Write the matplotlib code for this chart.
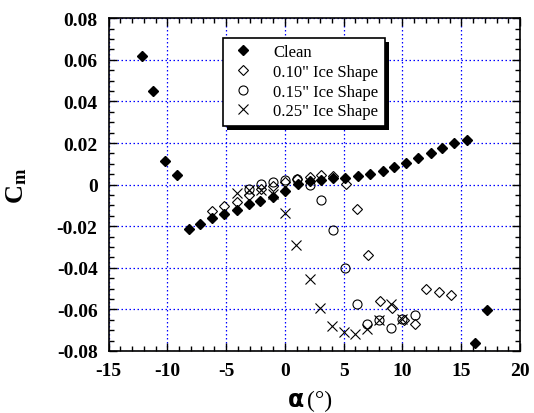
import matplotlib
matplotlib.use('Agg')
import matplotlib.pyplot as plt
from matplotlib.ticker import MultipleLocator
from matplotlib.patches import Rectangle

plt.rcParams['font.family'] = 'Liberation Serif'
plt.rcParams['mathtext.fontset'] = 'custom'
plt.rcParams['mathtext.rm'] = 'Liberation Serif'
plt.rcParams['mathtext.bf'] = 'Liberation Serif:bold'

# pitching moment vs angle of attack
clean_a = [-12.2, -11.2, -10.2, -9.2, -8.2, -7.2, -6.2, -5.2, -4.1, -3.1, -2.1, -1.0,
           0.0, 1.1, 2.1, 3.1, 4.1, 5.1, 6.2, 7.2, 8.3, 9.3, 10.3, 11.3, 12.4, 13.4,
           14.4, 15.5, 16.2, 17.2]
clean_cm = [0.0617, 0.0450, 0.0114, 0.0046, -0.0213, -0.0191, -0.0160, -0.0143, -0.0124,
            -0.0093, -0.0079, -0.0058, -0.0031, 0.0003, 0.0016, 0.0021, 0.0030, 0.0033,
            0.0043, 0.0051, 0.0066, 0.0083, 0.0103, 0.0127, 0.0151, 0.0175, 0.0202,
            0.0213, -0.0762, -0.0605]

ice10_a = [-6.2, -5.2, -4.1, -3.1, -2.0, -1.0, 0.0, 1.0, 2.1, 3.1, 4.1, 5.2, 6.1, 7.1,
           8.1, 9.1, 10.1, 11.1, 12.0, 13.1, 14.1]
ice10_cm = [-0.0127, -0.0101, -0.0085, -0.0050, -0.0023, -0.0008, 0.0011, 0.0025, 0.0038,
            0.0046, 0.0043, 0.0004, -0.0119, -0.0339, -0.0558, -0.0592, -0.0650, -0.0669,
            -0.0502, -0.0515, -0.0531]

ice15_a = [-3.1, -2.0, -1.0, 0.0, 1.0, 2.1, 3.1, 4.1, 5.1, 6.1, 7.0, 8.0, 9.0, 10.0, 11.1]
ice15_cm = [-0.0023, 0.0004, 0.0011, 0.0024, 0.0025, -0.0001, -0.0074, -0.0218, -0.0401,
            -0.0576, -0.0672, -0.0650, -0.0690, -0.0646, -0.0626]

ice25_a = [-4.1, -3.1, -2.0, -1.0, 0.0, 0.9, 2.1, 3.0, 4.0, 5.0, 6.0, 7.0, 8.0, 9.0, 10.0]
ice25_cm = [-0.0039, -0.0024, -0.0026, -0.0047, -0.0137, -0.0290, -0.0456, -0.0592,
            -0.0679, -0.0710, -0.0719, -0.0695, -0.0650, -0.0574, -0.0646]

x_ticks = [-15, -10, -5, 0, 5, 10, 15, 20]
x_labels = ['-15', '-10', '-5', '0', '5', '10', '15', '20']
y_ticks = [-0.08, -0.06, -0.04, -0.02, 0, 0.02, 0.04, 0.06, 0.08]
y_labels = ['-0.08', '-0.06', '-0.04', '-0.02', '0', '0.02', '0.04', '0.06', '0.08']

fig = plt.figure(figsize=(5.34, 4.14), dpi=100)
ax = fig.add_axes([0.2036, 0.1498, 0.7702, 0.8036])

ax.plot(clean_a, clean_cm, 'D', ms=5.4, color='black', mec='black', label='Clean', zorder=5)
ax.plot(ice10_a, ice10_cm, 'D', ms=5.2, mfc='white', mec='black', mew=0.8,
        label='0.10" Ice Shape', zorder=4)
ax.plot(ice15_a, ice15_cm, 'o', ms=6.5, mfc='none', mec='black', mew=0.8,
        label='0.15" Ice Shape', zorder=4)
ax.plot(ice25_a, ice25_cm, 'x', ms=7, color='black', mew=0.8,
        label='0.25" Ice Shape', zorder=4)

ax.set_xlim(-15, 20)
ax.set_ylim(-0.08, 0.08)
ax.set_xticks(x_ticks)
ax.set_xticklabels(x_labels, fontweight='bold', fontsize=14)
ax.set_yticks(y_ticks)
ax.set_yticklabels(y_labels, fontweight='bold', fontsize=14)
ax.xaxis.set_minor_locator(MultipleLocator(1))
ax.yaxis.set_minor_locator(MultipleLocator(0.005))
ax.grid(True, which='major', color='#0000ff', linestyle=(0, (1.2, 2)), linewidth=0.9)
ax.set_axisbelow(True)

ax.tick_params(which='both', direction='in', top=True, right=True, width=1)
ax.tick_params(which='major', length=6, pad=8)
ax.tick_params(which='minor', length=3.5)
for s in ax.spines.values():
    s.set_linewidth(1.2)

# axis titles
ax.set_ylabel(r'$\mathbf{C_m}$', fontsize=19, labelpad=20)
fig.text(0.569, 0.004, 'α', fontsize=17, fontweight='bold', family='DejaVu Sans',
         ha='right', va='bottom')
fig.text(0.574, 0.004, '(°)', fontsize=17, ha='left', va='bottom')

# legend with drop shadow
leg = ax.legend(loc='upper left', bbox_to_anchor=(0.278, 0.942), fontsize=12,
                frameon=True, fancybox=False, edgecolor='black', framealpha=1,
                borderpad=0.4, handletextpad=1.0, labelspacing=0.22, handlelength=1.6,
                borderaxespad=0)
leg.get_frame().set_linewidth(1.2)
leg.set_zorder(10)
fig.canvas.draw()
bb = leg.get_window_extent().transformed(fig.transFigure.inverted())
shadow = Rectangle((bb.x0 + 0.0075, bb.y0 - 0.0097), bb.width, bb.height,
                   transform=fig.transFigure, facecolor='black', edgecolor='none',
                   zorder=9, clip_on=False)
ax.add_patch(shadow)

fig.savefig('out.png', dpi=100)
